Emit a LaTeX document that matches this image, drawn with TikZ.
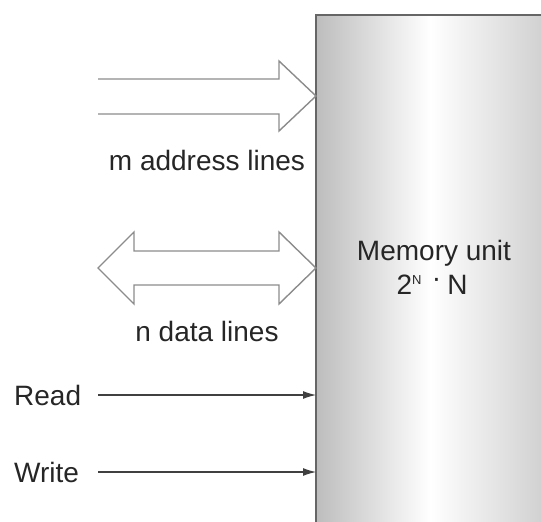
\documentclass[tikz,border=0pt]{standalone}
\usepackage{fontspec}
\setmainfont{Liberation Sans}
\usetikzlibrary{arrows.meta}
\definecolor{boxL}{HTML}{BDBDBD}
\definecolor{boxR}{HTML}{D0D0D0}
\definecolor{lineg}{HTML}{8C8C8C}
\tikzset{
  lbl/.style={font=\fontsize{28}{32}\selectfont, inner sep=0pt, text=black!85},
  bus/.style={draw=lineg, line width=1.4pt, line join=miter, fill=white},
  ctrl/.style={draw=black!75, line width=1.1pt, -{Latex[length=13pt,width=8pt]}},
}
\begin{document}
\begin{tikzpicture}[x=1pt,y=-1pt]
\useasboundingbox (0,0) rectangle (541,522);
% memory unit
\shade[left color=boxL, right color=boxR, middle color=white] (316,15) rectangle (545,526);
\draw[draw=black!60, line width=1.6pt] (316,526) -- (316,15) -- (545,15);
\node[lbl] (mem) at (434,253) {Memory unit};
\node[lbl, anchor=base] (size) at (432,294) {2\textsuperscript{\fontsize{13}{13}\selectfont N}\hspace{10pt}\raisebox{7pt}{·}\hspace{6pt}N};
% address lines
\coordinate (atip) at (316,96);
\draw[bus] (98,79) -- (279,79) -- (279,61) -- (atip) -- (279,131) -- (279,114) -- (98,114);
\node[lbl] (alab) at (207,160) {m address lines};
% data lines
\coordinate (dtip) at (316,268);
\draw[bus] (98,268) -- (134,232) -- (134,251) -- (279,251) -- (279,232) -- (dtip) -- (279,304) -- (279,285) -- (134,285) -- (134,304) -- cycle;
\node[lbl] (dlab) at (207,331) {n data lines};
% read / write
\node[lbl, anchor=west] (rd) at (14,395) {Read};
\node[lbl, anchor=west] (wr) at (14,472) {Write};
\coordinate (rdE) at (316,395);
\coordinate (wrE) at (316,472);
\draw[ctrl] (98,395) -- (rdE);
\draw[ctrl] (98,472) -- (wrE);
\end{tikzpicture}
\end{document}
